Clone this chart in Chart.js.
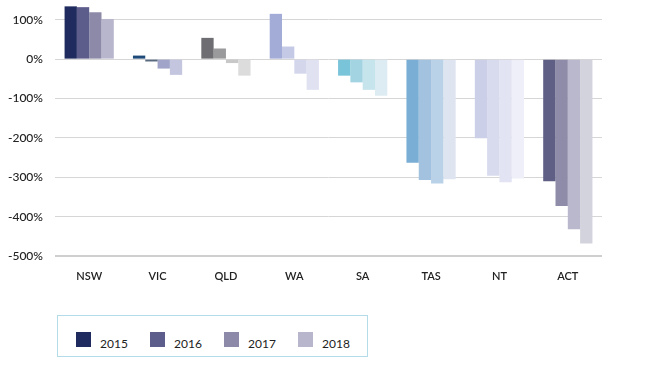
<!DOCTYPE html>
<html>
<head>
<meta charset="utf-8">
<script src="https://cdn.jsdelivr.net/npm/chart.js@4.4.1/dist/chart.umd.min.js"></script>
<style>
  html, body { margin: 0; padding: 0; background: #fff; }
  #wrap { position: relative; width: 649px; height: 366px; }
  #chartBox { position: absolute; left: 0; top: 0; width: 649px; height: 300px; }
  #legend {
    position: absolute; left: 57px; top: 315px; width: 309px; height: 40px;
    border: 1px solid #b4dce8; font-family: Lato, "Open Sans", sans-serif;
    font-size: 12px; color: #222;
  }
  #legend .item { position: absolute; top: 16px; height: 15px; }
  #legend .sw { position: absolute; left: 0; top: 0; width: 15px; height: 15px; }
  #legend span { position: absolute; left: 24px; top: 6px; line-height: 12px; }
</style>
</head>
<body>
<div id="wrap">
  <div id="chartBox"><canvas id="barChart" width="649" height="300"></canvas></div>
  <div id="legend"></div>
</div>
<script>
const states = ["NSW", "VIC", "QLD", "WA", "SA", "TAS", "NT", "ACT"];
const years = ["2015", "2016", "2017", "2018"];

const values2015 = [134, 9, 54, 115, -42, -263, -201, -310];
const values2016 = [132, -6, 27, 32, -59, -307, -296, -373];
const values2017 = [119, -24, -10, -37, -78, -316, -313, -432];
const values2018 = [102, -40, -42, -78, -93, -305, -303, -468];

const yTicks = [100, 0, -100, -200, -300, -400, -500];

// one colour family per state, shaded by year
const colors2015 = ["#1f2a5e", "#1e4a7a", "#6d6d72", "#a3acd6", "#79c4d8", "#7aaed4", "#cbd0e8", "#5f5f85"];
const colors2016 = ["#5d5d8c", "#5a6a80", "#9a9a9c", "#c4c9e6", "#a3d4e2", "#a3c2e0", "#d8dbee", "#8f8ca9"];
const colors2017 = ["#8c8aa8", "#a0a4c8", "#c8c8c8", "#d4d6ec", "#c6e4ec", "#b9d2e8", "#e2e3f3", "#b9b8cc"];
const colors2018 = ["#b8b6cc", "#c4c6e0", "#dcdcdc", "#e0e2f2", "#dcecf2", "#dfe5f0", "#eeeff8", "#d3d3dd"];

const seriesValues = [values2015, values2016, values2017, values2018];
const seriesColors = [colors2015, colors2016, colors2017, colors2018];

const ctx = document.getElementById("barChart").getContext("2d");
new Chart(ctx, {
  type: "bar",
  data: {
    labels: states,
    datasets: years.map((y, i) => ({
      label: y,
      data: seriesValues[i],
      backgroundColor: seriesColors[i],
      borderWidth: 0,
      categoryPercentage: 0.72,
      barPercentage: 1,
    })),
  },
  options: {
    responsive: false,
    animation: false,
    layout: { padding: { top: 4, right: 47, left: 0, bottom: 0 } },
    plugins: { legend: { display: false }, tooltip: { enabled: false } },
    scales: {
      x: {
        grid: { display: false },
        border: { display: false },
        ticks: { color: "#222", padding: 6, font: { family: "Lato", size: 11, weight: "600" } },
        afterFit: (s) => { s.height = 44; },
      },
      y: {
        min: -500,
        max: 140,
        afterBuildTicks: (s) => { s.ticks = yTicks.map((v) => ({ value: v })); },
        afterFit: (s) => { s.width = 55; s.paddingTop = 0; },
        grid: {
          drawTicks: false,
          color: (c) => (c.tick && c.tick.value === -500 ? "#cfcfcf" : "#d6d6d6"),
          lineWidth: (c) => (c.tick && c.tick.value === -500 ? 2 : 1),
        },
        border: { display: false },
        ticks: {
          padding: 12,
          color: "#222",
          font: { family: "Lato", size: 12, weight: "500" },
          callback: (v) => v + "%",
        },
      },
    },
  },
});

const legend = document.getElementById("legend");
years.forEach((y, i) => {
  const item = document.createElement("div");
  item.className = "item";
  item.style.left = (18 + i * 74) + "px";
  item.innerHTML = `<div class="sw" style="background:${seriesColors[i][0]}"></div><span>${y}</span>`;
  legend.appendChild(item);
});
</script>
</body>
</html>
